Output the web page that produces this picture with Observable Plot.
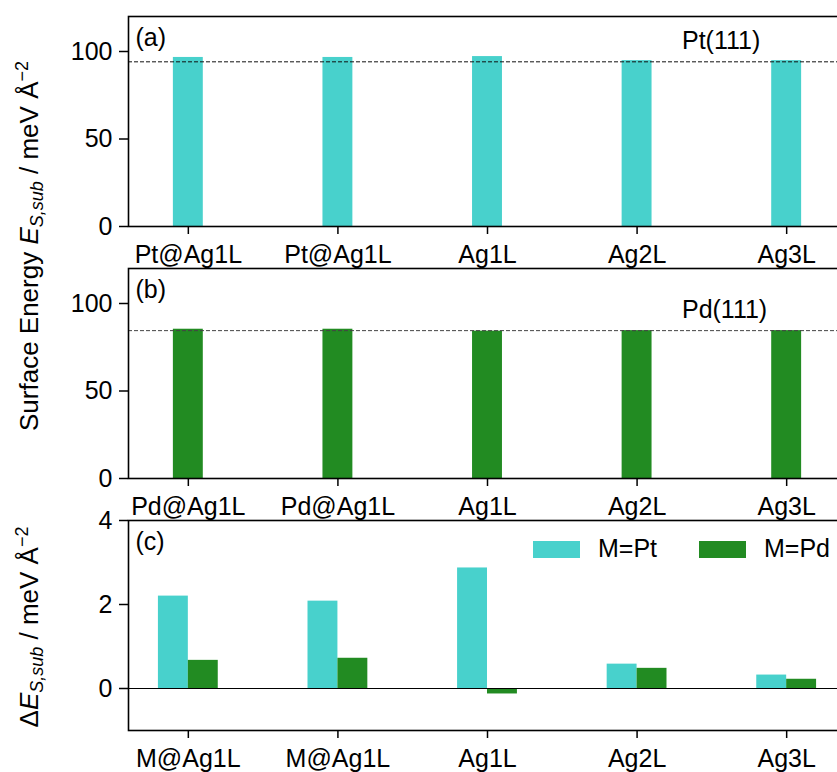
<!DOCTYPE html>
<html><head><meta charset="utf-8">
<script src="https://cdn.jsdelivr.net/npm/d3@7"></script>
<script src="https://cdn.jsdelivr.net/npm/@observablehq/plot@0.6"></script>
<style>
html,body{margin:0;padding:0;background:#fff;overflow:hidden;}
#wrap{position:relative;width:837px;height:772px;font-family:"Liberation Sans",Arial,sans-serif;}
#wrap svg{overflow:hidden;}
.panel{position:absolute;left:0;}
</style></head><body><div id="wrap"></div>
<script>
// ---- data ----
const labelsA = ["Pt@Ag1L", "Pt@Ag1L", "Ag1L", "Ag2L", "Ag3L"];
const labelsB = ["Pd@Ag1L", "Pd@Ag1L", "Ag1L", "Ag2L", "Ag3L"];
const labelsC = ["M@Ag1L", "M@Ag1L", "Ag1L", "Ag2L", "Ag3L"];
const ptEnergy = [96.6, 96.6, 97.1, 94.8, 94.8];
const pdEnergy = [85.3, 85.3, 84.2, 84.5, 84.5];
const ptRef = 94.1;
const pdRef = 84.5;
const ptDelta = [2.20, 2.08, 2.87, 0.58, 0.32];
const pdDelta = [0.67, 0.72, -0.13, 0.48, 0.22];
const yTicksAB = [0, 50, 100];
const yTicksC = [0, 2, 4];
const seriesNames = ["M=Pt", "M=Pd"];
const colorPt = "#48d1cc", colorPd = "#228b22";
const FONT = '"Liberation Sans", Arial, Helvetica, sans-serif';

const wrap = document.getElementById("wrap");

function panel({labels, series, yDomain, yTicks, ref, refLabel, refStroke, tag, zero, top}) {
  const marks = [];
  for (const s of series) {
    const data = s.values.map((v, i) => ({i, v}));
    marks.push(Plot.rectY(data, {x1: d => d.i + s.offset - 0.1, x2: d => d.i + s.offset + 0.1, y1: 0, y2: "v", fill: s.color}));
  }
  if (zero) marks.push(Plot.ruleY([0], {stroke: "black", strokeWidth: 1.1}));
  if (ref != null) {
    marks.push(Plot.ruleY([ref], {stroke: refStroke, strokeWidth: 1, strokeDasharray: "4,2"}));
    marks.push(Plot.text([refLabel], {x: 3.3, y: ref, text: d => d, textAnchor: "start", lineAnchor: "bottom", dy: -13, fontSize: 25, fill: "black"}));
  }
  marks.push(Plot.text([tag], {frameAnchor: "top-left", text: d => d, dx: 7, dy: 12, fontSize: 25, fill: "black"}));
  marks.push(Plot.axisX({ticks: [0, 1, 2, 3, 4], tickFormat: i => labels[i], tickSize: 8, tickPadding: 11, strokeWidth: 1.5, fontSize: 25, label: null}));
  marks.push(Plot.axisY({ticks: yTicks, tickFormat: d => String(d), tickSize: 9, tickPadding: 7, strokeWidth: 1.5, fontSize: 25, label: null}));
  marks.push(Plot.frame({stroke: "black", strokeWidth: 1.6}));
  const p = Plot.plot({
    width: 837, height: 268,
    marginLeft: 128, marginRight: -9, marginTop: 16, marginBottom: 42,
    x: {domain: [-0.4, 4.4], axis: null},
    y: {domain: yDomain, axis: null},
    style: {fontFamily: FONT, fontSize: "25px", color: "black", background: "transparent"},
    marks
  });
  p.classList.add("panel");
  p.style.top = top + "px";
  wrap.appendChild(p);
}

panel({labels: labelsA, series: [{values: ptEnergy, color: colorPt, offset: 0}], yDomain: [0, 120], yTicks: yTicksAB,
  ref: ptRef, refLabel: "Pt(111)", refStroke: "#111", tag: "(a)", top: 0});
panel({labels: labelsB, series: [{values: pdEnergy, color: colorPd, offset: 0}], yDomain: [0, 120], yTicks: yTicksAB,
  ref: pdRef, refLabel: "Pd(111)", refStroke: "#444", tag: "(b)", top: 252});
panel({labels: labelsC, series: [{values: ptDelta, color: colorPt, offset: -0.1}, {values: pdDelta, color: colorPd, offset: 0.1}],
  yDomain: [-1, 4], yTicks: yTicksC, ref: null, tag: "(c)", zero: true, top: 504});

// ---- overlay: y labels and legend ----
const NS = "http://www.w3.org/2000/svg";
const ov = document.createElementNS(NS, "svg");
ov.setAttribute("width", 837); ov.setAttribute("height", 772);
ov.setAttribute("style", "position:absolute;left:0;top:0;pointer-events:none;font-family:" + FONT.replace(/"/g, "'") + ";font-size:25px;");
wrap.appendChild(ov);

function ylabel(cx, cy, prefix) {
  const t = document.createElementNS(NS, "text");
  t.setAttribute("transform", `translate(${cx},${cy}) rotate(-90)`);
  t.setAttribute("text-anchor", "middle");
  t.setAttribute("font-size", "26");
  t.innerHTML = `${prefix}<tspan font-style="italic">E</tspan><tspan font-style="italic" font-size="18" dy="5">S,sub</tspan><tspan dy="-5"> / meV Å</tspan><tspan font-size="18" dy="-10">−2</tspan>`;
  ov.appendChild(t);
}
ylabel(38, 246, "Surface Energy ");
ylabel(38, 627, "Δ");

const legendItems = [
  {name: seriesNames[0], color: colorPt, x: 533},
  {name: seriesNames[1], color: colorPd, x: 699}
];
for (const it of legendItems) {
  const r = document.createElementNS(NS, "rect");
  r.setAttribute("x", it.x); r.setAttribute("y", 541); r.setAttribute("width", 47); r.setAttribute("height", 17);
  r.setAttribute("fill", it.color);
  ov.appendChild(r);
  const t = document.createElementNS(NS, "text");
  t.setAttribute("x", it.x + 65); t.setAttribute("y", 557);
  t.textContent = it.name;
  ov.appendChild(t);
}
</script>
</body></html>
